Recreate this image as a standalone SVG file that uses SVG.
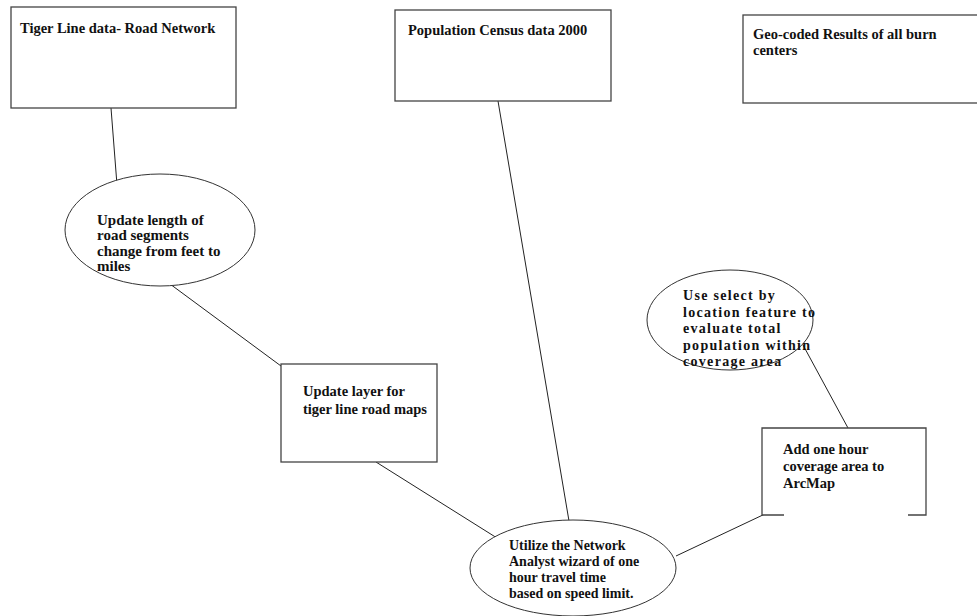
<svg xmlns="http://www.w3.org/2000/svg" width="977" height="616" viewBox="0 0 977 616">
<style>
.box{fill:#fff;stroke:#444;stroke-width:1.3}
.ell{fill:#fff;stroke:#333;stroke-width:1}
.t{font-family:"Liberation Serif","Times New Roman",serif;font-weight:bold;font-size:14.5px;fill:#111}
.s{font-size:14px}
.w{font-size:14px;letter-spacing:1.3px}
.c{stroke:#222;stroke-width:1;fill:none}
</style>
<rect width="977" height="616" fill="#fff"/>
<g id="connectors">
<line class="c" x1="111" y1="108" x2="117" y2="185"/>
<line class="c" x1="170" y1="284" x2="281" y2="366"/>
<line class="c" x1="376" y1="462" x2="497" y2="538"/>
<line class="c" x1="498" y1="101" x2="569" y2="521"/>
<line class="c" x1="676" y1="556" x2="784" y2="505"/>
<line class="c" x1="803" y1="345" x2="848" y2="428"/>
</g>
<g id="tiger">
<rect class="box" x="11" y="7" width="225" height="101"/>
<text class="t" x="20" y="33">Tiger Line data- Road Network</text>
</g>
<g id="census">
<rect class="box" x="395" y="10" width="216" height="91"/>
<text class="t" x="408" y="35">Population Census data 2000</text>
</g>
<g id="geocoded">
<rect class="box" x="743" y="15" width="240" height="88"/>
<text class="t" x="753" y="39">Geo-coded Results of all burn</text>
<text class="t" x="753" y="55">centers</text>
</g>
<g id="update-length">
<ellipse class="ell" cx="160" cy="230" rx="95" ry="56"/>
<text class="t" x="97" y="225" style="font-size:15px">Update length of</text>
<text class="t" x="97" y="240" style="font-size:15px">road segments</text>
<text class="t" x="97" y="256" style="font-size:15px">change from feet to</text>
<text class="t" x="97" y="271" style="font-size:15px">miles</text>
</g>
<g id="update-layer">
<rect class="box" x="281" y="364" width="156" height="98"/>
<text class="t" x="303" y="396">Update layer for</text>
<text class="t" x="303" y="414">tiger line road maps</text>
</g>
<g id="network-analyst">
<ellipse class="ell" cx="573" cy="568" rx="103" ry="48"/>
<text class="t s" x="509" y="550">Utilize the Network</text>
<text class="t s" x="509" y="566">Analyst wizard of one</text>
<text class="t s" x="509" y="582">hour travel time</text>
<text class="t s" x="509" y="598">based on speed limit.</text>
</g>
<g id="select-location">
<ellipse class="ell" cx="730" cy="320" rx="83" ry="50"/>
<text class="t w" x="683" y="300">Use select by</text>
<text class="t w" x="683" y="316.5">location feature to</text>
<text class="t w" x="683" y="333">evaluate total</text>
<text class="t w" x="683" y="349.5">population within</text>
<text class="t w" x="683" y="366">coverage area</text>
</g>
<g id="add-coverage">
<path class="box" d="M784 515 H762 V428 H926 V515 H908"/>
<text class="t" x="783" y="454">Add one hour</text>
<text class="t" x="783" y="471">coverage area to</text>
<text class="t" x="783" y="488">ArcMap</text>
</g>
</svg>
